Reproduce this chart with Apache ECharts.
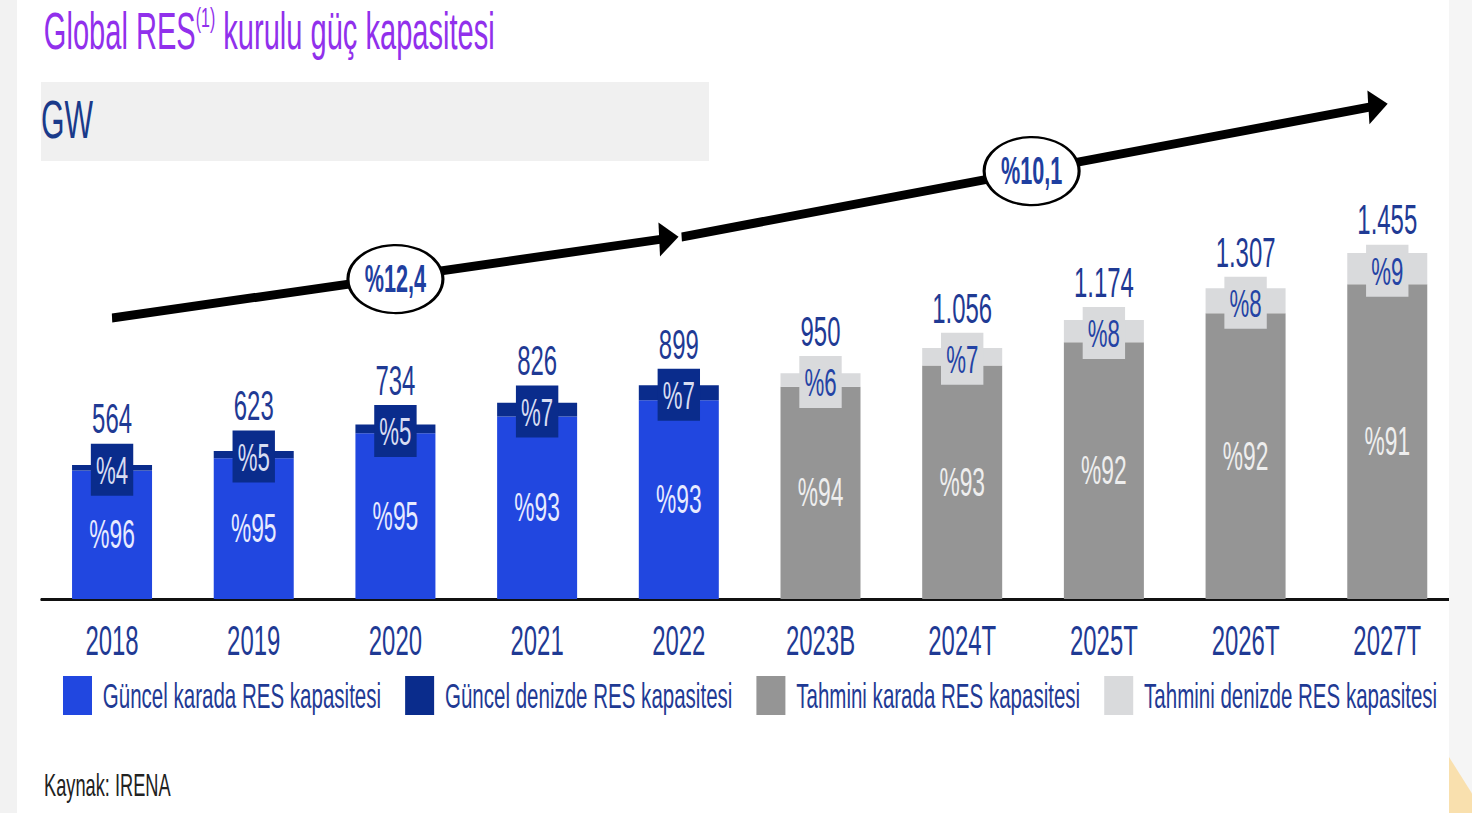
<!DOCTYPE html>
<html>
<head>
<meta charset="utf-8">
<script src="https://cdn.jsdelivr.net/npm/echarts@6/dist/echarts.min.js"></script>
<style>
    html, body { margin: 0; padding: 0; background: #fff; overflow: hidden; }
    #chart { height: 813px; transform-origin: 0 0; }
</style>
</head>
<body>
<div id="chart"></div>
<script>
    // 数据
    const categories = ['2018', '2019', '2020', '2021', '2022', '2023B', '2024T', '2025T', '2026T', '2027T'];
    const totalLabels = ['564', '623', '734', '826', '899', '950', '1.056', '1.174', '1.307', '1.455'];
    const onshoreShare = [96, 95, 95, 93, 93, 94, 93, 92, 92, 91];
    const offshoreShare = [4, 5, 5, 7, 7, 6, 7, 8, 8, 9];
    const actualOnshore = [541, 592, 697, 768, 836, '-', '-', '-', '-', '-'];
    const actualOffshore = [23, 31, 37, 58, 63, '-', '-', '-', '-', '-'];
    const forecastOnshore = ['-', '-', '-', '-', '-', 893, 982, 1080, 1202, 1324];
    const forecastOffshore = ['-', '-', '-', '-', '-', 57, 74, 94, 105, 131];
    const cagrLabels = ['%12,4', '%10,1'];

    // CAGR oklari (veri koordinatlarinda: kategori sirasi, GW)
    const arrowLines = [
        { coords: [[0, 1182], [3.93, 1518]] },
        { coords: [[4.02, 1523], [8.935, 2076]] }
    ];
    const cagrBubbles = [[2, 1346], [6.49, 1800]];

    // yazi tipi dar oldugu icin grafik yatayda sikistiriliyor
    const S = 0.57;
    const W = Math.ceil(1472 / S);
    function ux(px) { return px / S; }

    const FONT = "'Liberation Sans', Arial, sans-serif";
    const TXT_BLUE = '#1f3a94';

    let dom = document.getElementById('chart');
    dom.style.width = W + 'px';
    dom.style.transform = 'scaleX(' + S + ')';

    function boxLabel(boxColor, textColor) {
        return {
            show: true,
            position: 'inside',
            offset: [0, -32],
            formatter: function (p) {
                return '{t|' + totalLabels[p.dataIndex] + '}\n{b|%' + offshoreShare[p.dataIndex] + '}';
            },
            rich: {
                t: { fontFamily: FONT, fontSize: 42, lineHeight: 68, color: TXT_BLUE },
                b: {
                    fontFamily: FONT, fontSize: 39, lineHeight: 34, color: textColor,
                    backgroundColor: boxColor, padding: [7, 9, 6, 9]
                }
            }
        };
    }

    function innerLabel(color) {
        return {
            show: true,
            position: 'inside',
            fontFamily: FONT,
            fontSize: 40,
            color: color,
            formatter: function (p) { return '%' + onshoreShare[p.dataIndex]; }
        };
    }

    let myChart = echarts.init(dom, null, { renderer: 'svg', width: W, height: 813 });
    let _option = {
        animation: false,
        backgroundColor: '#fff',
        title: {
            left: ux(41),
            top: -2,
            text: '{a|Global RES}{s|(1)}{a| kurulu güç kapasitesi}',
            textStyle: {
                fontWeight: 'normal',
                rich: {
                    a: { fontFamily: FONT, fontSize: 51, lineHeight: 56, fontWeight: 'normal', color: '#9130ec' },
                    s: { fontFamily: FONT, fontSize: 28, lineHeight: 40, fontWeight: 'normal', color: '#9130ec', verticalAlign: 'top' }
                }
            }
        },
        graphic: [
            { type: 'rect', shape: { x: 0, y: 0, width: ux(17), height: 813 }, style: { fill: '#f2f2f2' }, z: -10 },
            { type: 'rect', shape: { x: ux(1449), y: 0, width: ux(24), height: 813 }, style: { fill: '#f5f5f5' }, z: 100 },
            { type: 'polygon', shape: { points: [[ux(1449), 757], [ux(1473), 795], [ux(1473), 813], [ux(1449), 813]] }, style: { fill: '#f9e0ae' }, z: 101 },
            { type: 'rect', shape: { x: ux(41), y: 82, width: ux(668), height: 79 }, style: { fill: '#f0f0f0' }, z: -5 },
            {
                type: 'text', x: ux(41), y: 120,
                style: { text: 'GW', font: '53px ' + FONT, fill: '#1a3a8a', align: 'left', verticalAlign: 'middle', textVerticalAlign: 'middle' }
            },
            {
                type: 'text', x: ux(44), y: 785,
                style: { text: 'Kaynak: IRENA', font: '32px ' + FONT, fill: '#222', align: 'left', verticalAlign: 'middle', textVerticalAlign: 'middle' }
            }
        ],
        legend: {
            left: ux(63),
            top: 676,
            padding: 0,
            itemWidth: ux(29),
            itemHeight: 39,
            itemGap: ux(24),
            icon: 'rect',
            data: ['Güncel karada RES kapasitesi', 'Güncel denizde RES kapasitesi', 'Tahmini karada RES kapasitesi', 'Tahmini denizde RES kapasitesi'],
            textStyle: { fontFamily: FONT, fontSize: 36, color: TXT_BLUE, padding: [0, 0, 0, 14] }
        },
        grid: { left: ux(41.2), right: ux(14.2), top: 76, bottom: 214, containLabel: false },
        xAxis: [
            {
                type: 'category',
                data: categories,
                axisLine: { lineStyle: { color: '#111', width: 3 } },
                axisTick: { show: false },
                axisLabel: { fontFamily: FONT, fontSize: 42, color: TXT_BLUE, margin: 20 }
            },
            { type: 'value', min: -0.5, max: 9.5, show: false }
        ],
        yAxis: { type: 'value', min: 0, max: 2200, show: false },
        series: [
            {
                name: 'Güncel karada RES kapasitesi', type: 'bar', stack: 'cap', barWidth: ux(80),
                data: actualOnshore, itemStyle: { color: '#2147e0' }, label: innerLabel('#e8ebff')
            },
            {
                name: 'Güncel denizde RES kapasitesi', type: 'bar', stack: 'cap', barWidth: ux(80),
                data: actualOffshore, itemStyle: { color: '#0a2c8c' }, label: boxLabel('#0a2c8c', '#d8ddf2')
            },
            {
                name: 'Tahmini karada RES kapasitesi', type: 'bar', stack: 'cap', barWidth: ux(80),
                data: forecastOnshore, itemStyle: { color: '#959595' }, label: innerLabel('#eeeeee')
            },
            {
                name: 'Tahmini denizde RES kapasitesi', type: 'bar', stack: 'cap', barWidth: ux(80),
                data: forecastOffshore, itemStyle: { color: '#d9dadc' }, label: boxLabel('#d9dadc', '#2443a5')
            },
            {
                type: 'lines',
                coordinateSystem: 'cartesian2d',
                xAxisIndex: 1,
                yAxisIndex: 0,
                symbol: ['none', 'triangle'],
                symbolSize: 34,
                lineStyle: { color: '#000', width: 9, opacity: 1, curveness: 0 },
                data: arrowLines,
                z: 5
            },
            {
                type: 'scatter',
                xAxisIndex: 1,
                yAxisIndex: 0,
                symbol: 'circle',
                symbolSize: [ux(95), 68],
                itemStyle: { color: '#fff', borderColor: '#000', borderWidth: 3.5, opacity: 1 },
                label: {
                    show: true,
                    position: 'inside',
                    fontFamily: FONT,
                    fontSize: 38,
                    fontWeight: 'bold',
                    color: '#1f3fa0',
                    formatter: function (p) { return cagrLabels[p.dataIndex]; }
                },
                emphasis: { disabled: true },
                data: cagrBubbles,
                z: 6
            }
        ]
    };
    myChart.setOption(_option);
</script>
</body>
</html>
